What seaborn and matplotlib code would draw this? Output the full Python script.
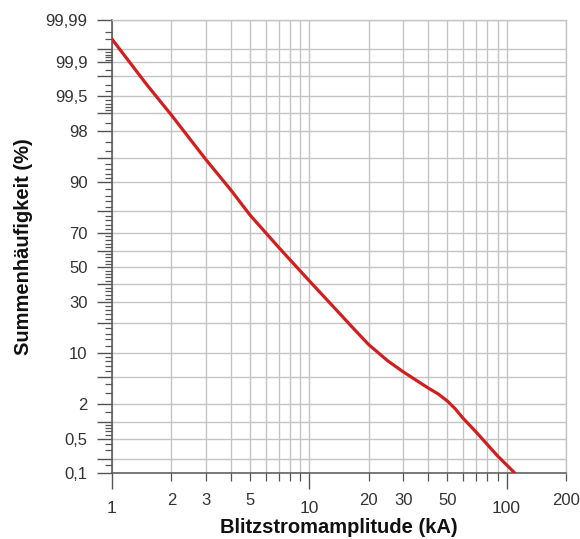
import numpy as np
import pandas as pd
import matplotlib
matplotlib.use("Agg")
import matplotlib.pyplot as plt
import seaborn as sns
from statistics import NormalDist
from matplotlib.ticker import FixedLocator, FixedFormatter, NullFormatter

# Lightning current amplitude (kA) vs. cumulative frequency (%)
current_ka = [1, 1.5, 2, 3, 4, 5, 7, 10, 14, 17, 20, 25, 30, 40, 45, 50, 55,
              60, 70, 90, 110]
cum_freq_pct = [99.97, 99.70, 98.9, 94.7, 87.8, 78.5, 61.8, 42.0, 25.2, 17.4,
                12.3, 8.0, 5.8, 3.5, 2.86, 2.24, 1.67, 1.18, 0.67, 0.23, 0.1]

# Probability-paper grid and labels
y_grid = [0.1, 0.2, 0.5, 1, 2, 5, 10, 20, 30, 40, 50, 60, 70, 80, 90, 95,
          98, 99, 99.5, 99.8, 99.9, 99.95, 99.99]
y_label_text = {0.1: "0,1", 0.5: "0,5", 2: "2", 10: "10", 30: "30", 50: "50",
                70: "70", 90: "90", 98: "98", 99.5: "99,5", 99.9: "99,9",
                99.99: "99,99"}
y_minor = ([0.15, 0.3, 0.4, 0.6, 0.7, 0.8, 0.9, 1.5, 3, 4, 6, 7, 8, 9]
           + [v for v in range(12, 90, 2) if v % 10 != 0]
           + [91, 92, 93, 94, 96, 97, 98.5, 99.1, 99.2, 99.3, 99.4, 99.6,
              99.7, 99.85, 99.91, 99.92, 99.93, 99.94, 99.97, 99.98])

x_major = [1, 10, 100]
x_major_text = ["1", "10", "100"]
x_minor = [2, 3, 4, 5, 6, 7, 8, 9, 20, 30, 40, 50, 60, 70, 80, 90, 200]
x_minor_text = {2: "2", 3: "3", 5: "5", 20: "20", 30: "30", 50: "50", 200: "200"}

df = pd.DataFrame({"Blitzstromamplitude (kA)": current_ka,
                   "Summenhäufigkeit (%)": cum_freq_pct})

sns.set_style("white")
plt.rcParams["font.family"] = ["Liberation Sans", "DejaVu Sans"]

_nd = NormalDist()
_ppf = np.vectorize(lambda p: _nd.inv_cdf(min(max(p, 1e-12), 1 - 1e-12)),
                    otypes=[float])
_cdf = np.vectorize(_nd.cdf, otypes=[float])


def to_probit(p):
    return _ppf(np.asarray(p, dtype=float) / 100.0)


def from_probit(z):
    return _cdf(np.asarray(z, dtype=float)) * 100.0


fig = plt.figure(figsize=(5.8, 5.39), dpi=100)
ax = fig.add_axes([112 / 580, 1 - 473 / 539, 454 / 580, 453 / 539])

sns.lineplot(data=df, x="Blitzstromamplitude (kA)", y="Summenhäufigkeit (%)",
             ax=ax, color="#d11f1f", linewidth=2.3, estimator=None, sort=True,
             zorder=5)

ax.set_xscale("log")
ax.set_yscale("function", functions=(to_probit, from_probit))
ax.set_xlim(1, 200)
ax.set_ylim(0.1, 99.99)

grid_col = "#c4c4c4"
tick_col = "#555555"
label_col = "#333333"

# x axis: decades get long ticks and lower labels
ax.xaxis.set_major_locator(FixedLocator(x_major))
ax.xaxis.set_major_formatter(FixedFormatter(x_major_text))
ax.xaxis.set_minor_locator(FixedLocator(x_minor))
ax.xaxis.set_minor_formatter(FixedFormatter([x_minor_text.get(v, "") for v in x_minor]))
ax.tick_params(axis="x", which="major", direction="out", length=11.5, width=1.0,
               color=tick_col, labelsize=12.5, labelcolor=label_col, pad=9,
               bottom=True)
ax.tick_params(axis="x", which="minor", direction="out", length=5.8, width=0.9,
               color=tick_col, labelsize=12, labelcolor=label_col, pad=8.4,
               bottom=True)

# y axis: long ticks at grid lines, short ticks in between
ax.yaxis.set_major_locator(FixedLocator(y_grid))
ax.yaxis.set_major_formatter(FixedFormatter([y_label_text.get(v, "") for v in y_grid]))
ax.yaxis.set_minor_locator(FixedLocator(y_minor))
ax.yaxis.set_minor_formatter(NullFormatter())
ax.tick_params(axis="y", which="major", direction="out", length=11, width=1.0,
               color=tick_col, labelsize=12, labelcolor=label_col, pad=6.5,
               left=True)
ax.tick_params(axis="y", which="minor", direction="out", length=5, width=0.9,
               color=tick_col, left=True)

# grid
ax.grid(False)
ax.grid(True, which="both", axis="x", color=grid_col, linewidth=1.0)
ax.grid(True, which="major", axis="y", color=grid_col, linewidth=1.0)
ax.set_axisbelow(True)

for side in ("top", "right"):
    ax.spines[side].set_color(grid_col)
    ax.spines[side].set_linewidth(1.0)
for side in ("left", "bottom"):
    ax.spines[side].set_color(tick_col)
    ax.spines[side].set_linewidth(1.1)

ax.set_xlabel("Blitzstromamplitude (kA)", fontsize=14.5, fontweight="bold",
              color="#111111")
ax.set_ylabel("Summenhäufigkeit (%)", fontsize=14.5, fontweight="bold",
              color="#111111")
ax.xaxis.set_label_coords(0.5, (473 - 518) / 453)
ax.yaxis.set_label_coords((33 - 112) / 454, 0.5)

fig.savefig("out.png", dpi=100)
